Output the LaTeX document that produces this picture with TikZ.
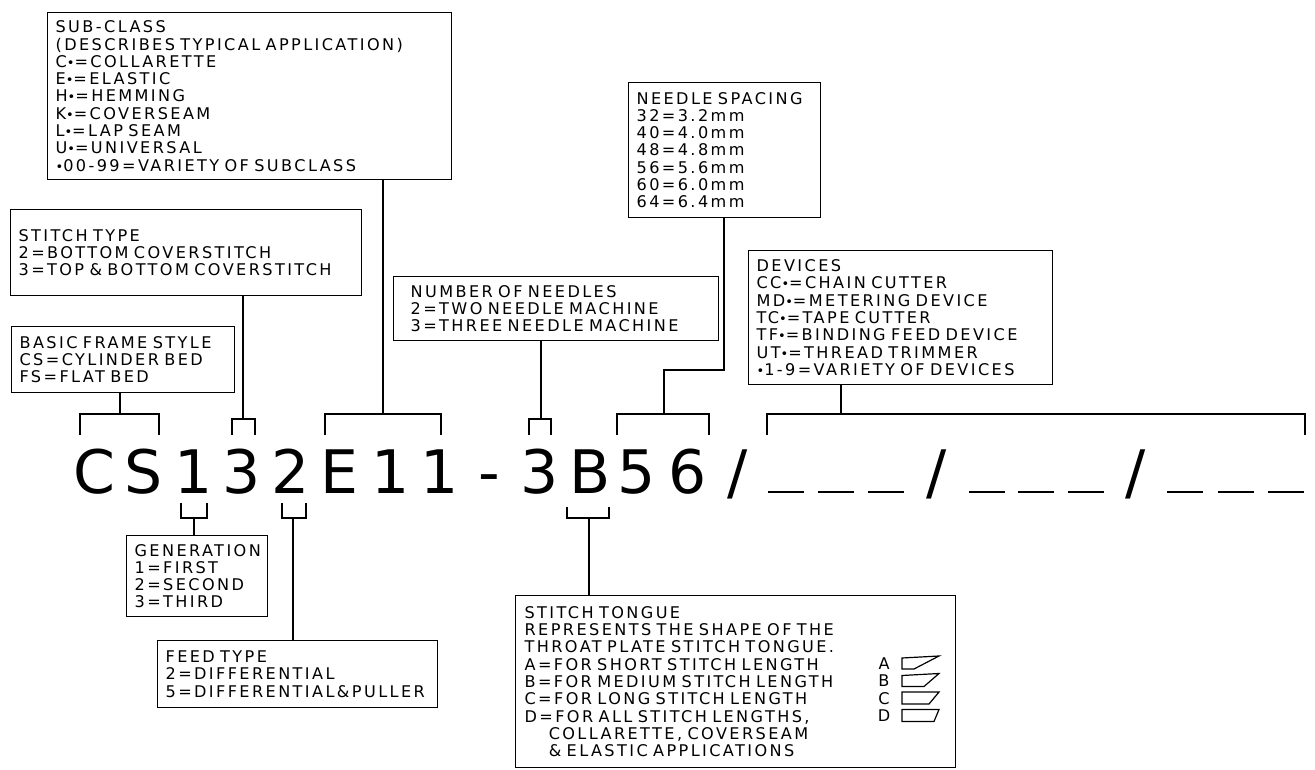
\documentclass[tikz,border=0pt]{standalone}
\usepackage{fontspec}
\setmainfont{DejaVu Sans}[LetterSpace=15,WordSpace=2.6]
\newfontfamily\bigfont{DejaVu Sans}
\newcommand{\bul}{{\fontsize{13}{13}\selectfont •}}
\begin{document}
\begin{tikzpicture}[x=1pt,y=-1pt,
  box/.style={draw,line width=1.2pt,anchor=north west,inner xsep=8pt,inner ysep=0pt,align=left,
     font=\fontsize{16.1}{17.3}\selectfont},
  big/.style={anchor=base,inner sep=0pt,font=\bigfont\fontsize{60}{60}\selectfont},
  ln/.style={line width=1.2pt},
  tl/.style={anchor=base,inner sep=0pt,font=\fontsize{16.1}{17.3}\selectfont}]
\useasboundingbox (0,0) rectangle (1315,770);
% boxes
\node[box,minimum width=404pt,minimum height=167pt,text width=388pt] (sub) at (47,12) {SUB-CLASS\\(DESCRIBES TYPICAL APPLICATION)\\C\bul=COLLARETTE\\E\bul=ELASTIC\\H\bul=HEMMING\\K\bul=COVERSEAM\\L\bul=LAP SEAM\\U\bul=UNIVERSAL\\\bul00-99=VARIETY OF SUBCLASS};
\node[box,minimum width=351pt,minimum height=86pt,text width=335pt] (stype) at (10,209) {STITCH TYPE\\2=BOTTOM COVERSTITCH\\3=TOP \& BOTTOM COVERSTITCH};
\node[box,minimum width=223pt,minimum height=66pt,text width=207pt] (bfs) at (11,326) {BASIC FRAME STYLE\\CS=CYLINDER BED\\FS=FLAT BED};
\node[box,minimum width=307pt,minimum height=64pt,text width=291pt,inner xsep=17pt] (need) at (393,276) {NUMBER OF NEEDLES\\2=TWO NEEDLE MACHINE\\3=THREE NEEDLE MACHINE};
\node[box,minimum width=192pt,minimum height=135pt,text width=176pt] (spac) at (628,82) {NEEDLE SPACING\\32=3.2mm\\40=4.0mm\\48=4.8mm\\56=5.6mm\\60=6.0mm\\64=6.4mm};
\node[box,minimum width=304pt,minimum height=134pt,text width=288pt] (dev) at (748,250) {DEVICES\\CC\bul=CHAIN CUTTER\\MD\bul=METERING DEVICE\\TC\bul=TAPE CUTTER\\TF\bul=BINDING FEED DEVICE\\UT\bul=THREAD TRIMMER\\\bul1-9=VARIETY OF DEVICES};
\node[box,minimum width=141pt,minimum height=81pt,text width=125pt] (gen) at (126,535) {GENERATION\\1=FIRST\\2=SECOND\\3=THIRD};
\node[box,minimum width=280pt,minimum height=67pt,text width=264pt] (feed) at (157,640) {FEED TYPE\\2=DIFFERENTIAL\\5=DIFFERENTIAL\&PULLER};
\node[box,minimum width=438pt,minimum height=172pt,text width=422pt,inner xsep=9pt] (tong) at (515,595) {STITCH TONGUE\\REPRESENTS THE SHAPE OF THE\\THROAT PLATE STITCH TONGUE.\\A=FOR SHORT STITCH LENGTH\\B=FOR MEDIUM STITCH LENGTH\\C=FOR LONG STITCH LENGTH\\D=FOR ALL STITCH LENGTHS,\\\hspace*{1.5em}COLLARETTE, COVERSEAM\\\hspace*{1.5em}\& ELASTIC APPLICATIONS\\[6pt]};
% tongue letters and shapes
\node[tl] (la) at (884,669) {A};
\node[tl] (lb) at (884,686.5) {B};
\node[tl] (lc) at (884,704) {C};
\node[tl] (ld) at (884,721.5) {D};
\draw[ln] (902,658) -- (939,656) -- (914,669) -- (902,669) -- cycle;
\draw[ln] (902,675.5) -- (939,673.5) -- (924,686.5) -- (902,686.5) -- cycle;
\draw[ln] (902,692) -- (939,692) -- (929,704) -- (902,704) -- cycle;
\draw[ln] (902,709.5) -- (939,709.5) -- (934,721.5) -- (902,721.5) -- cycle;
% big code
\node[big] (c1) at (94.5,493) {C};
\node[big] (c2) at (144,493) {S};
\node[big] (c3) at (194,493) {1};
\node[big] (c4) at (242,493) {3};
\node[big] (c5) at (291,493) {2};
\node[big] (c6) at (339,493) {E};
\node[big] (c7) at (391,493) {1};
\node[big] (c8) at (440,493) {1};
\node[big] (c9) at (489,493) {-};
\node[big] (c10) at (540,493) {3};
\node[big] (c11) at (590,493) {B};
\node[big] (c12) at (637,493) {5};
\node[big] (c13) at (688,493) {6};
\node[big] (c14) at (738,493) {/};
\node[big] (c15) at (937,493) {/};
\node[big] (c16) at (1136,493) {/};
\foreach \a in {768,818,868,969,1018,1068,1167,1218,1268}
  \draw[line width=1.5pt] (\a,492) -- ++(36,0);
% brackets above
\coordinate (kcs) at (120,414);
\coordinate (kst) at (243,419);
\coordinate (ksub) at (383,414);
\coordinate (kne) at (541,419);
\coordinate (ksp) at (664,414);
\coordinate (kdev) at (841,414);
\draw[ln] (80,435) |- (159,414) -- (159,435);
\draw[ln] (232,435) |- (255,419) -- (255,435);
\draw[ln] (325,435) |- (441,414) -- (441,435);
\draw[ln] (529,435) |- (551,419) -- (551,435);
\draw[ln] (617,435) |- (709,414) -- (709,435);
\draw[ln] (767,435) |- (1305,414) -- (1305,435);
\draw[ln] (bfs.south -| kcs) -- (kcs);
\draw[ln] (stype.south -| kst) -- (kst);
\draw[ln] (sub.south -| ksub) -- (ksub);
\draw[ln] (need.south -| kne) -- (kne);
\draw[ln] (spac.south -| 724,0) -- (724,370) -| (ksp);
\draw[ln] (dev.south -| kdev) -- (kdev);
% brackets below
\coordinate (kgen) at (194,518);
\coordinate (kfeed) at (293,518);
\coordinate (ktong) at (589,518);
\draw[ln] (181,503) |- (207,518) -- (207,503);
\draw[ln] (282,503) |- (306,518) -- (306,503);
\draw[ln] (567,507) |- (609,518) -- (609,507);
\draw[ln] (kgen) -- (gen.north -| kgen);
\draw[ln] (kfeed) -- (feed.north -| kfeed);
\draw[ln] (ktong) -- (tong.north -| ktong);
\end{tikzpicture}
\end{document}
